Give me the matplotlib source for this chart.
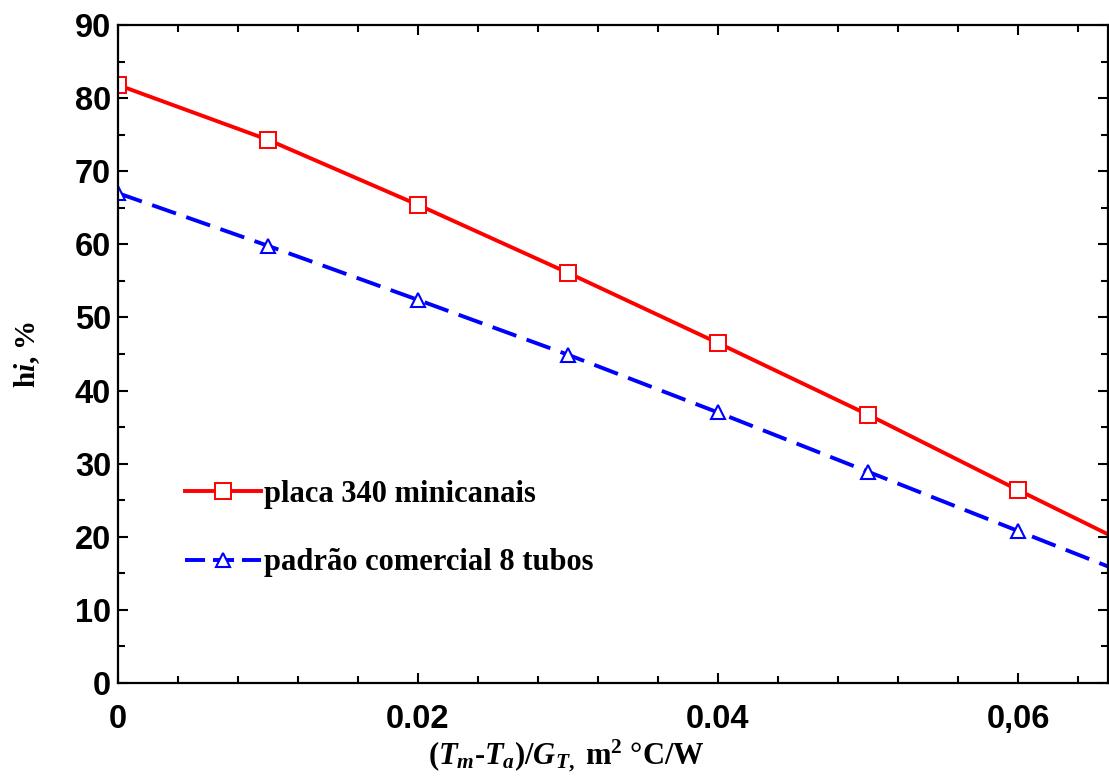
import numpy as np
import matplotlib
matplotlib.use("Agg")
import matplotlib.pyplot as plt
from matplotlib.ticker import MultipleLocator, FixedLocator, FixedFormatter

plt.rcParams['mathtext.fontset'] = 'custom'
plt.rcParams['mathtext.rm'] = 'Liberation Serif:bold'
plt.rcParams['mathtext.it'] = 'Liberation Serif:bold:italic'
plt.rcParams['mathtext.bf'] = 'Liberation Serif:bold'

# eficiencia instantanea vs (Tm-Ta)/GT
x = [0.0, 0.01, 0.02, 0.03, 0.04, 0.05, 0.06, 0.07]
placa = [81.8, 74.3, 65.4, 56.1, 46.5, 36.7, 26.4, 16.3]
padrao = [67.0, 59.8, 52.4, 44.9, 37.0, 28.9, 20.8, 12.7]

xticks = [0.0, 0.02, 0.04, 0.06]
xticklabels = ['0', '0.02', '0.04', '0,06']

fig = plt.figure(figsize=(11.09, 7.78), dpi=100)
ax = fig.add_axes([118/1109, 1-683/778, 990/1109, 658/778])

ax.plot(x, placa, color='red', lw=2.8, marker='s', ms=11.5, mfc='white', mec='red', mew=1.4,
        label='placa 340 minicanais')
ax.plot(x, padrao, color='blue', lw=2.8, dashes=(6.5, 2.8), marker='^', ms=10.5, mfc='white', mec='blue',
        mew=1.5, label='padrão comercial 8 tubos')

ax.set_xlim(0, 0.066)
ax.set_ylim(0, 90)

ax.xaxis.set_major_locator(FixedLocator(xticks))
ax.xaxis.set_major_formatter(FixedFormatter(xticklabels))
ax.xaxis.set_minor_locator(MultipleLocator(0.004))
ax.yaxis.set_major_locator(MultipleLocator(10))
ax.yaxis.set_minor_locator(MultipleLocator(5))

ax.tick_params(which='both', direction='in', top=True, right=True, width=1.5)
ax.tick_params(which='major', length=7)
ax.tick_params(which='minor', length=5)
ax.tick_params(axis='x', which='major', pad=15)
ax.tick_params(axis='y', which='major', pad=5)
for lab in ax.get_xticklabels() + ax.get_yticklabels():
    lab.set_fontfamily('Liberation Sans')
    lab.set_fontweight('bold')
    lab.set_fontsize(23.5)

for sp in ax.spines.values():
    sp.set_linewidth(1.6)

ax.set_xlabel(r'$(T_m$-$T_a)/G_{T,}$ m$^2$ °C/W', fontfamily='Liberation Serif',
              fontweight='bold', fontsize=22)
ax.xaxis.set_label_coords(0.4525, -0.083)
ax.set_ylabel(r'h$i$, %', fontfamily='Liberation Serif', fontweight='bold', fontsize=21)
ax.yaxis.set_label_coords(-0.077, 0.5)

leg = ax.legend(loc='upper left', bbox_to_anchor=(0.0677, 0.309), frameon=False,
                prop={'family': 'Liberation Serif', 'weight': 'bold', 'size': 22},
                handlelength=2.5, handletextpad=0.1, labelspacing=1.3,
                borderpad=0, borderaxespad=0, numpoints=1)
# legenda: traco - triangulo - traco
leg.get_lines()[1].set_dashes((5.14, 2.06, 5.4, 2.06))

fig.savefig('out.png', dpi=100)
